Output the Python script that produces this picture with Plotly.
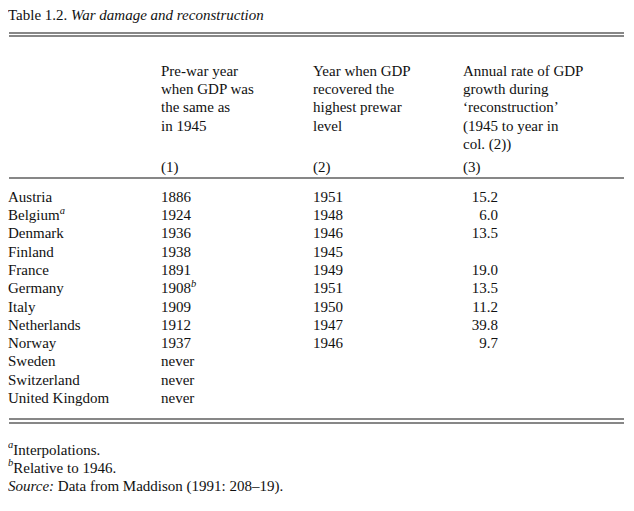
import plotly.graph_objects as go

countries = ["Austria", "Belgium<sup><i>a</i></sup>", "Denmark", "Finland", "France", "Germany",
             "Italy", "Netherlands", "Norway", "Sweden", "Switzerland", "United Kingdom"]
col1 = ["1886", "1924", "1936", "1938", "1891", "1908<sup><i>b</i></sup>", "1909", "1912", "1937",
        "never", "never", "never"]
col2 = ["1951", "1948", "1946", "1945", "1949", "1951", "1950", "1947", "1946", "", "", ""]
col3 = ["15.2", "6.0", "13.5", "", "19.0", "13.5", "11.2", "39.8", "9.7", "", "", ""]

head1 = ["Pre-war year", "when GDP was", "the same as", "in 1945"]
head2 = ["Year when GDP", "recovered the", "highest prewar", "level"]
head3 = ["Annual rate of GDP", "growth during", "‘reconstruction’", "(1945 to year in", "col. (2))"]
colnums = ["(1)", "(2)", "(3)"]

notes = ["<sup><i>a</i></sup>Interpolations.", "<sup><i>b</i></sup>Relative to 1946.",
         "<i>Source:</i> Data from Maddison (1991: 208–19)."]

font = dict(family="Liberation Serif", size=15, color="#111")
row_y = [190 + i * 18.3 for i in range(len(countries))]
head_y = [64 + i * 18.3 for i in range(5)]

fig = go.Figure()

def txt(x, y, t, pos="middle right"):
    fig.add_trace(go.Scatter(x=x, y=y, text=t, mode="text", textposition=pos,
                             textfont=font, hoverinfo="skip", showlegend=False))

txt([0] * len(countries), row_y, countries)
txt([153] * len(col1), row_y, col1)
txt([305] * len(col2), row_y, col2)
txt([490] * len(col3), row_y, col3, "middle left")
txt([153] * len(head1), head_y[:4], head1)
txt([305] * len(head2), head_y[:4], head2)
txt([455] * len(head3), head_y, head3)
txt([153, 305, 455], [160] * 3, colnums)
txt([0] * len(notes), [443, 461, 479], notes)
txt([0], [8], ["Table 1.2. <i>War damage and reconstruction</i>"])

for y in [25, 28, 170, 411, 415]:
    fig.add_shape(type="line", x0=1, x1=616, y0=y, y1=y,
                  line=dict(color="#111", width=1.2))

fig.update_xaxes(range=[0, 634], visible=False)
fig.update_yaxes(range=[511, 0], visible=False)
fig.update_layout(width=634, height=511, margin=dict(l=0, r=0, t=0, b=0),
                  plot_bgcolor="white", paper_bgcolor="white")
fig.write_html("out.html")
